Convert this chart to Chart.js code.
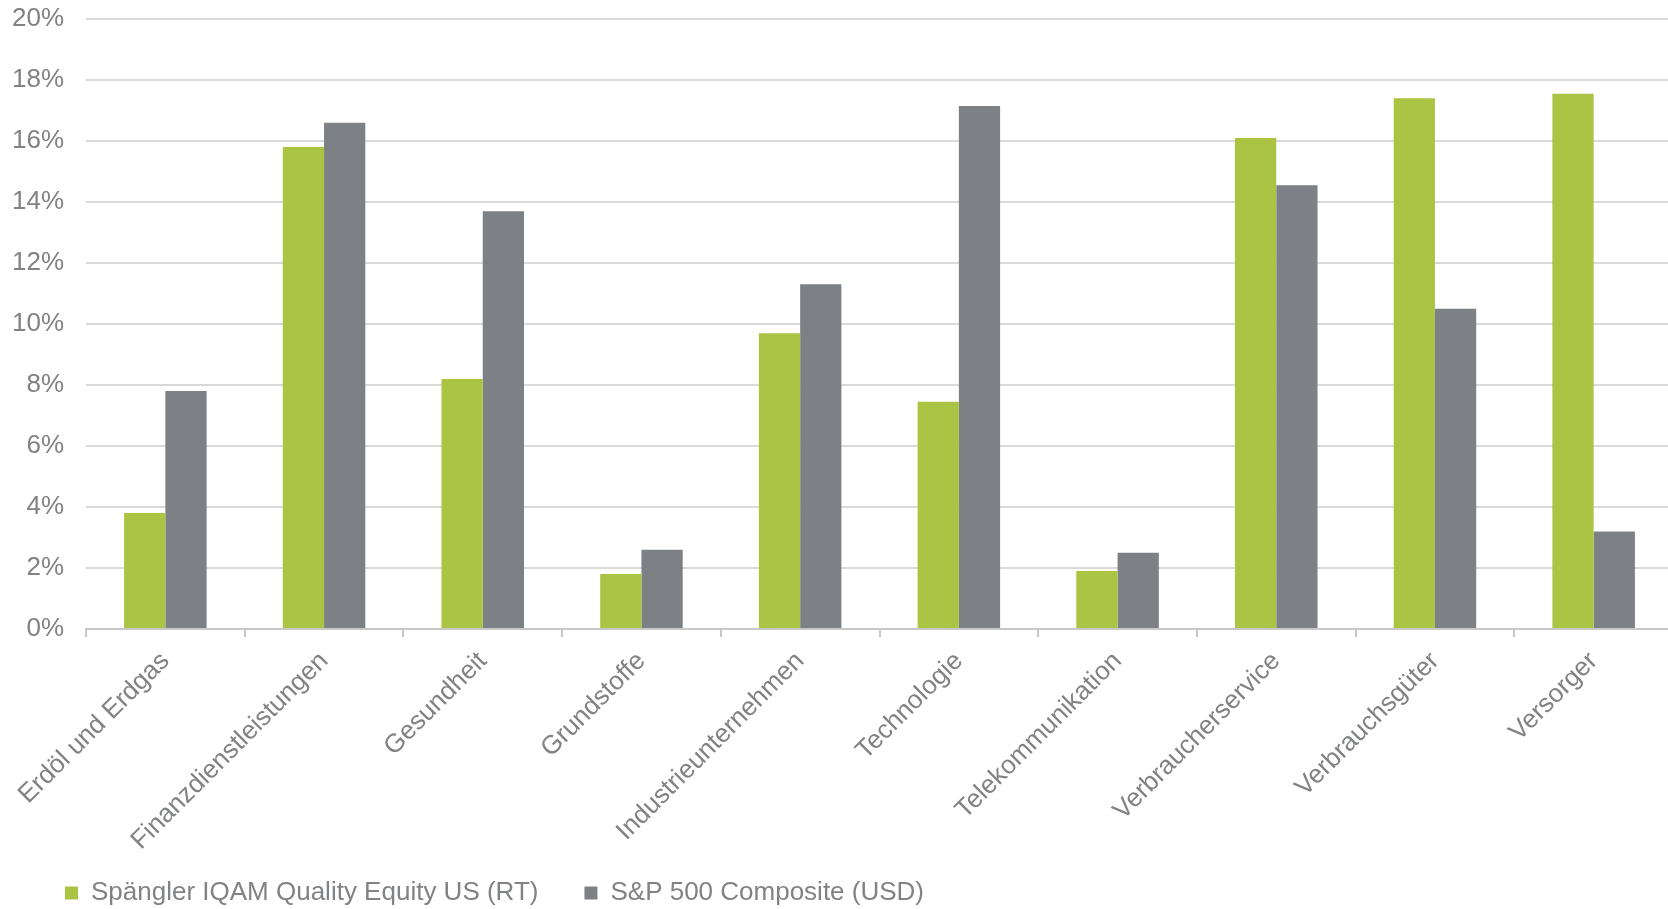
<!DOCTYPE html>
<html>
<head>
<meta charset="utf-8">
<script src="https://cdn.jsdelivr.net/npm/chart.js@4/dist/chart.umd.min.js"></script>
<style>
  html, body { margin: 0; padding: 0; background: #fff; overflow: hidden; }
  #wrap { width: 1673px; height: 909px; }
</style>
</head>
<body>
<div id="wrap"><canvas id="sektoren"></canvas></div>
<script>
var categories = ['Erdöl und Erdgas', 'Finanzdienstleistungen', 'Gesundheit', 'Grundstoffe',
  'Industrieunternehmen', 'Technologie', 'Telekommunikation', 'Verbraucherservice',
  'Verbrauchsgüter', 'Versorger'];
var spaenglerValues = [3.8, 15.8, 8.2, 1.8, 9.7, 7.45, 1.9, 16.1, 17.4, 17.55];
var sp500Values = [7.8, 16.6, 13.7, 2.6, 11.3, 17.15, 2.5, 14.55, 10.5, 3.2];
var seriesNames = ['Spängler IQAM Quality Equity US (RT)', 'S&P 500 Composite (USD)'];

var textGray = '#808285';
var font = {family: 'Arial, "Liberation Sans", sans-serif', size: 26};

// let the tick labels run past their own scale boxes (no clipping)
var unclipLabels = {
  id: 'unclipLabels',
  afterLayout: function(chart) {
    chart.scales.y.left = 0;
    chart.scales.x.bottom = chart.height;
  }
};

new Chart(document.getElementById('sektoren'), {
  type: 'bar',
  data: {
    labels: categories,
    datasets: [
      {label: seriesNames[0], data: spaenglerValues, backgroundColor: '#abc443', borderWidth: 0},
      {label: seriesNames[1], data: sp500Values, backgroundColor: '#7d8084', borderWidth: 0}
    ]
  },
  plugins: [unclipLabels],
  options: {
    responsive: true,
    maintainAspectRatio: false,
    animation: false,
    layout: {padding: {left: 19, right: 0, top: 19, bottom: -7}},
    datasets: {bar: {categoryPercentage: 0.52, barPercentage: 1.0}},
    plugins: {
      tooltip: {enabled: false},
      legend: {
        position: 'bottom',
        align: 'start',
        labels: {
          color: textGray,
          font: font,
          boxWidth: 13,
          boxHeight: 13,
          padding: 46
        }
      }
    },
    scales: {
      x: {
        grid: {drawOnChartArea: false, drawTicks: true, tickLength: 8, color: '#c8c8c8', lineWidth: 2},
        border: {color: '#c8c8c8', width: 2},
        ticks: {color: textGray, font: font, minRotation: 45, maxRotation: 45, autoSkip: false, padding: 9},
        afterFit: function(scale) { scale.height = 205; }
      },
      y: {
        min: 0,
        max: 20,
        grid: {color: '#d9d9d9', lineWidth: 2, drawTicks: true, tickLength: 20, tickColor: 'rgba(0,0,0,0)'},
        border: {display: false},
        ticks: {
          stepSize: 2,
          color: textGray,
          font: font,
          padding: 2,
          callback: function(v) { return v + '%'; }
        },
        afterFit: function(scale) { scale.width = 67; }
      }
    }
  }
});
</script>
</body>
</html>
